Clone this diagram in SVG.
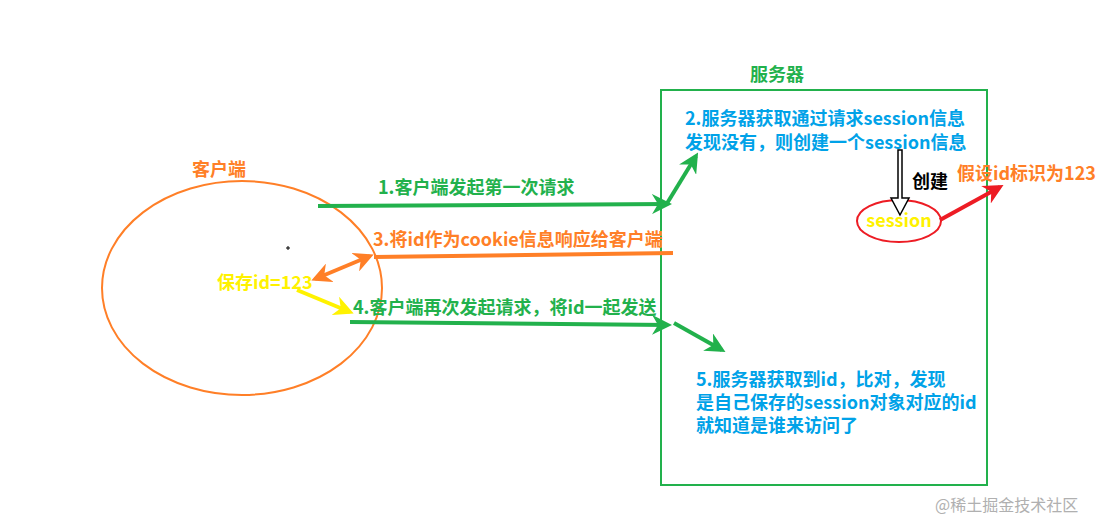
<svg xmlns="http://www.w3.org/2000/svg" width="1113" height="531" viewBox="0 0 1113 531">
<style>
text{font-family:"Microsoft YaHei","Noto Sans CJK SC","Noto Sans",sans-serif;font-weight:bold;font-size:18px}
.g{fill:#22b14c}.o{fill:#ff7f27}.b{fill:#00a2e8}.y{fill:#fff200}.k{fill:#000}
.lg{stroke:#22b14c;stroke-width:4;fill:none}
.lo{stroke:#ff7f27;stroke-width:4;fill:none}
.ly{stroke:#fff200;stroke-width:4;fill:none}
.lr{stroke:#ed1c24;stroke-width:4;fill:none}
</style>
<defs>
<marker id="ag" viewBox="0 0 10 10" refX="8" refY="5" markerWidth="5" markerHeight="5" orient="auto" markerUnits="strokeWidth"><path d="M0,0 L10,5 L0,10 L3,5 Z" fill="#22b14c"/></marker>
<marker id="ao" viewBox="0 0 10 10" refX="8" refY="5" markerWidth="5" markerHeight="5" orient="auto-start-reverse" markerUnits="strokeWidth"><path d="M0,0 L10,5 L0,10 L3,5 Z" fill="#ff7f27"/></marker>
<marker id="ay" viewBox="0 0 10 10" refX="8" refY="5" markerWidth="5" markerHeight="5" orient="auto" markerUnits="strokeWidth"><path d="M0,0 L10,5 L0,10 L3,5 Z" fill="#fff200"/></marker>
<marker id="ar" viewBox="0 0 10 10" refX="8" refY="5" markerWidth="5" markerHeight="5" orient="auto" markerUnits="strokeWidth"><path d="M0,0 L10,5 L0,10 L3,5 Z" fill="#ed1c24"/></marker>
</defs>
<rect width="1113" height="531" fill="#fff"/>

<g id="client">
<ellipse cx="242" cy="288" rx="140" ry="107" fill="none" stroke="#ff7f27" stroke-width="2"/>
<text x="192" y="176" class="o">客户端</text>
<text x="217" y="289" class="y">保存id=123</text>
<path d="M288,246 v4 M286,248 h4" stroke="#000" stroke-width="1"/>
</g>

<g id="server">
<rect x="661" y="90" width="326" height="395" fill="none" stroke="#22b14c" stroke-width="2"/>
<text x="750" y="81" class="g">服务器</text>
<text x="685" y="125" class="b">2.服务器获取通过请求session信息</text>
<text x="685" y="149" class="b">发现没有，则创建一个session信息</text>
<text x="696" y="386" class="b">5.服务器获取到id，比对，发现</text>
<text x="696" y="409" class="b">是自己保存的session对象对应的id</text>
<text x="696" y="432" class="b">就知道是谁来访问了</text>
</g>

<g id="session">
<ellipse cx="899" cy="221" rx="42" ry="21" fill="none" stroke="#ed1c24" stroke-width="2"/>
<text x="899" y="227" class="y" text-anchor="middle">session</text>
<text x="912" y="188" class="k">创建</text>
<text x="957" y="180" class="o">假设id标识为123</text>
</g>

<g id="connectors">
<line x1="318" y1="206" x2="668" y2="204" class="lg" marker-end="url(#ag)"/>
<text x="378" y="194" class="g">1.客户端发起第一次请求</text>
<line x1="666" y1="205" x2="696" y2="156" class="lg" marker-end="url(#ag)"/>
<path d="M898,150 h4 v48 h7 l-9,17 l-9,-17 h7 Z" fill="#fff" stroke="#000" stroke-width="1.5"/>
<line x1="940" y1="220" x2="1000" y2="187" class="lr" marker-end="url(#ar)"/>
<line x1="673" y1="253" x2="374" y2="257" class="lo"/>
<line x1="370" y1="256" x2="315" y2="279" class="lo" marker-start="url(#ao)" marker-end="url(#ao)"/>
<text x="373" y="246" class="o">3.将id作为cookie信息响应给客户端</text>
<line x1="297" y1="290" x2="350" y2="312" class="ly" marker-end="url(#ay)"/>
<text x="353" y="314" class="g">4.客户端再次发起请求，将id一起发送</text>
<line x1="350" y1="322" x2="668" y2="325" class="lg" marker-end="url(#ag)"/>
<line x1="674" y1="323" x2="722" y2="350" class="lg" marker-end="url(#ag)"/>
</g>

<text x="935" y="511" style="font-weight:normal;font-size:16px;fill:#b0b0b0">@稀土掘金技术社区</text>
</svg>
